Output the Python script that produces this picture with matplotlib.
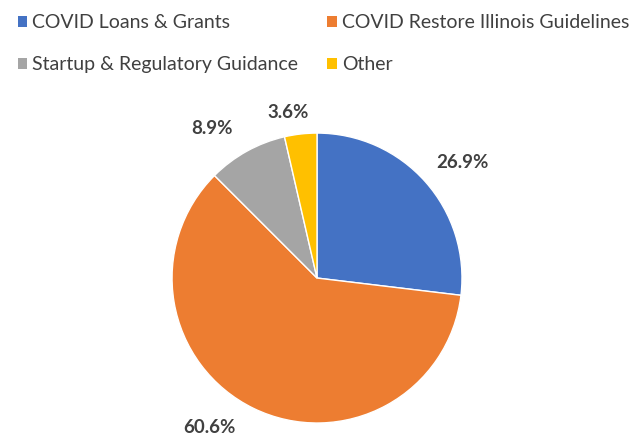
import numpy as np
import matplotlib.pyplot as plt
from matplotlib.patches import Patch

categories = ["COVID Loans & Grants", "COVID Restore Illinois Guidelines",
              "Startup & Regulatory Guidance", "Other"]
shares = [26.9, 60.6, 8.9, 3.6]
colors = ["#4472C4", "#ED7D31", "#A5A5A5", "#FFC000"]

# label placement (Excel "best fit" look): angle tweak in degrees, radial distance
label_shift = [-3, -10, 6, 3.5]
label_dist = [1.28, 1.27, 1.26, 1.16]

plt.rcParams['font.family'] = ['Lato', 'DejaVu Sans']

fig = plt.figure(figsize=(6.31, 4.36), dpi=100)
ax = fig.add_axes([0.2726, 0.0298, 0.4596, 0.665])

wedges, _ = ax.pie(shares, colors=colors, startangle=90, counterclock=False,
                   wedgeprops=dict(edgecolor="white", linewidth=1))
for w, s, da, d in zip(wedges, shares, label_shift, label_dist):
    ang = np.deg2rad((w.theta1 + w.theta2) / 2 + da)
    ax.text(d * np.cos(ang), d * np.sin(ang), f"{s:.1f}%", ha="center", va="center",
            fontsize=13.5, fontweight="bold", color="#404040")
ax.set_xlim(-1, 1)
ax.set_ylim(-1, 1)
ax.set_aspect("equal")

# legend filled row by row like the original
order = [0, 2, 1, 3]
handles = [Patch(facecolor=colors[i], edgecolor="none") for i in order]
fig.legend(handles, [categories[i] for i in order], loc="upper left",
           bbox_to_anchor=(0.0, 1.008), ncol=2, frameon=False, fontsize=14,
           handlelength=0.5, handleheight=0.5, handletextpad=0.25,
           labelspacing=1.3, columnspacing=1.5, labelcolor="#404040")

fig.savefig("out.png", dpi=100)
